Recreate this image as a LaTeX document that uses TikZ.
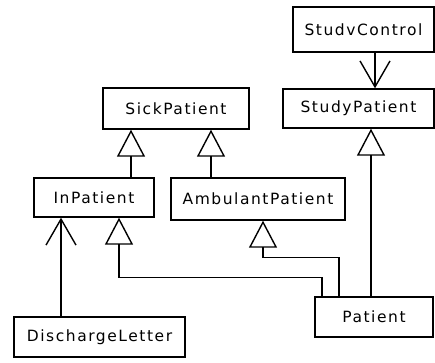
\documentclass[tikz,border=0pt]{standalone}
\usepackage{fontspec}
\setmainfont{DejaVu Sans}[LetterSpace=10]
\usetikzlibrary{arrows.meta,positioning}

\begin{document}
\begin{tikzpicture}[x=1pt,y=-1pt,line width=1.4pt]
\tikzstyle{block} = [draw, rectangle, inner sep=0pt, font=\fontsize{15.5}{18}\selectfont]
\tikzstyle{gen} = [-{Triangle[open,length=27pt,width=28pt]}]
\tikzstyle{assoc} = [-{Straight Barb[length=26pt,width=30pt]}]

\useasboundingbox (0,0) rectangle (435,362);

\node [block, minimum width=141pt, minimum height=45pt] (studvcontrol) at (363.5,29.5) {StudvControl};
\node [block, minimum width=151pt, minimum height=39pt] (studypatient) at (358.5,108.5) {StudyPatient};
\node [block, minimum width=146pt, minimum height=41pt] (sickpatient) at (176,108.5) {SickPatient};
\node [block, minimum width=120pt, minimum height=39pt] (inpatient) at (94,197.5) {InPatient};
\node [block, minimum width=174pt, minimum height=42pt] (ambulantpatient) at (258,199) {AmbulantPatient};
\node [block, minimum width=118pt, minimum height=40pt] (patient) at (374,317) {Patient};
\node [block, minimum width=171pt, minimum height=40pt] (dischargeletter) at (99.5,337) {DischargeLetter};

\node [coordinate, right = 11.5pt of studvcontrol.south] (sc1){};
\node [coordinate, right = 37pt of inpatient.north] (ip1){};
\node [coordinate, right = 25pt of inpatient.south] (ip2){};
\node [coordinate, left = 47pt of ambulantpatient.north] (ap1){};
\node [coordinate, right = 5pt of ambulantpatient.south] (ap2){};
\node [coordinate, left = 3pt of patient.north] (pa1){};
\node [coordinate, left = 35pt of patient.north] (pa2){};
\node [coordinate, left = 52pt of patient.north] (pa3){};
\node [coordinate, left = 38.5pt of dischargeletter.north] (dl1){};

\draw [assoc] (sc1) -- (sc1 |- studypatient.north);
\draw [gen] (ip1) -- (ip1 |- sickpatient.south);
\draw [gen] (ap1) -- (ap1 |- sickpatient.south);
\draw [gen] (pa1) -- (pa1 |- studypatient.south);
\draw [gen] (pa2) -- ++(0,-39) -| (ap2);
\draw [gen] (pa3) -- ++(0,-19) -| (ip2);
\draw [assoc] (dl1) -- (dl1 |- inpatient.south);
\end{tikzpicture}
\end{document}
